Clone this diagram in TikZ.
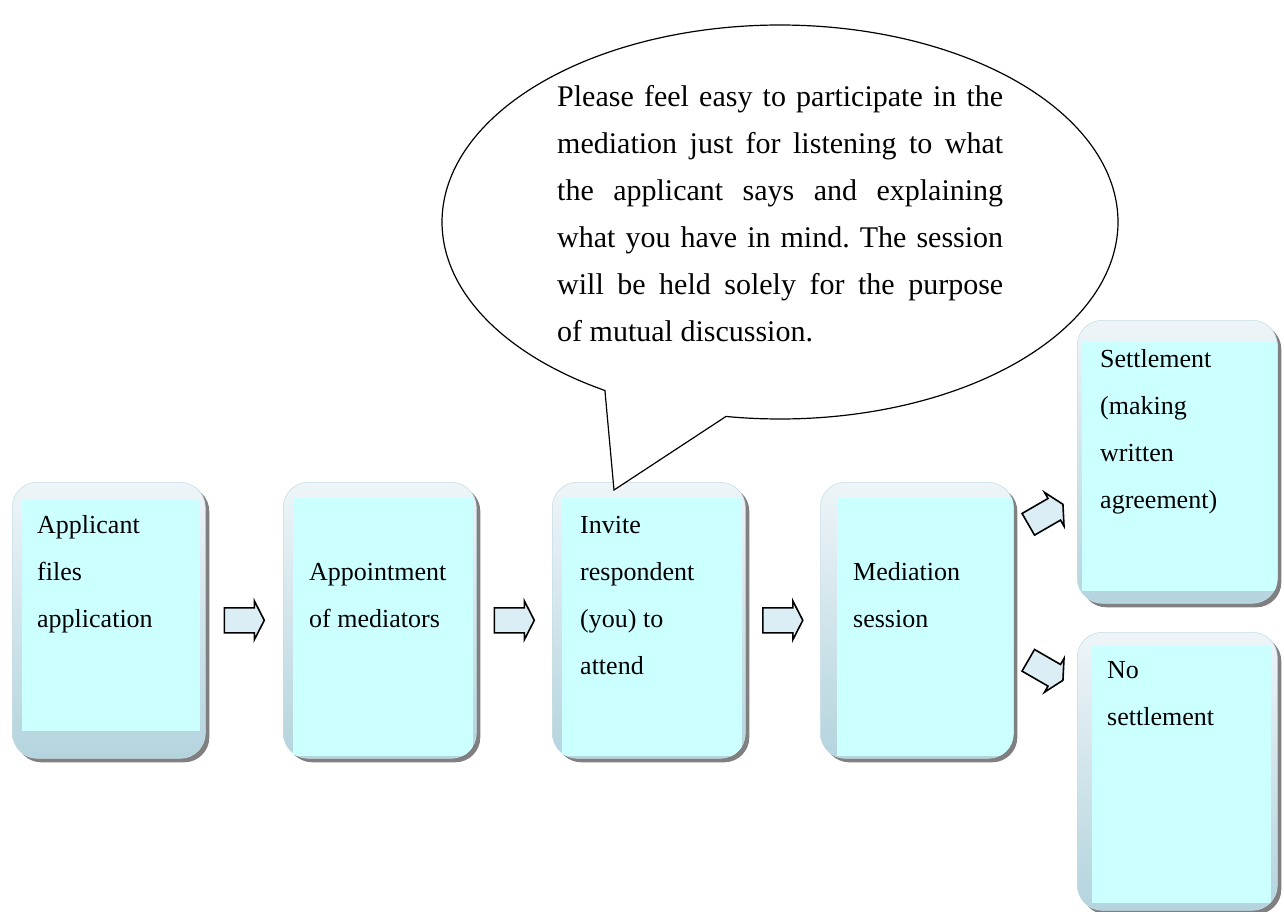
\documentclass[tikz,border=0pt]{standalone}
\usepackage{fontspec}
\setmainfont{Liberation Serif}
\newfontfamily\lsfont{Liberation Serif}
\usetikzlibrary{calc,shadows}
\definecolor{cyanin}{HTML}{CCFFFF}
\definecolor{boxtop}{HTML}{EEF5F8}
\definecolor{boxbot}{HTML}{B4D4DE}
\definecolor{boxedge}{HTML}{C8DEE6}
\definecolor{arrfill}{HTML}{DCEEF5}
\newcommand\innerfill[5]{%
  \begin{scope}
    \clip[rounded corners=25pt] (#1.north west) rectangle (#1.south east);
    \fill[cyanin] ($(#1.north west)+(#2,#3)$) rectangle ($(#1.south east)+(-#4,-#5)$);
  \end{scope}}
\begin{document}
\begin{tikzpicture}[x=1pt,y=-1pt,
  boxnode/.style={rectangle, rounded corners=25pt, top color=boxtop, bottom color=boxbot,
    draw=boxedge, line width=0.6pt, inner sep=0pt,
    drop shadow={shadow xshift=4pt, shadow yshift=-4pt, fill=black!50, opacity=1}},
  btext/.style={inner sep=0pt, anchor=base west, font=\lsfont\fontsize{26pt}{47pt}\selectfont},
  arrowst/.style={draw=black, line width=1.6pt, fill=arrfill, line join=miter},
  blockarr/.pic={\draw[arrowst] (-20,-12.5) -- (10,-12.5) -- (10,-19.5) -- (20,0) -- (10,19.5) -- (10,12.5) -- (-20,12.5) -- cycle;},
  bubble/.style={draw=black, line width=1.2pt, fill=white, line join=miter}
]
\useasboundingbox (0,0) rectangle (1284,912);

% boxes
\node[boxnode, minimum width=193pt, minimum height=276pt, anchor=north west] (b1) at (12,482) {};
\node[boxnode, minimum width=193pt, minimum height=276pt, anchor=north west] (b2) at (283,482) {};
\node[boxnode, minimum width=193pt, minimum height=276pt, anchor=north west] (b3) at (552,482) {};
\node[boxnode, minimum width=193pt, minimum height=276pt, anchor=north west] (b4) at (820,482) {};
\node[boxnode, minimum width=200pt, minimum height=283pt, anchor=north west] (b5) at (1077,320) {};
\node[boxnode, minimum width=200pt, minimum height=278pt, anchor=north west] (b6) at (1077,632) {};

\innerfill{b1}{10}{18}{6}{28}
\innerfill{b2}{10}{16}{4}{3}
\innerfill{b3}{10}{16}{4}{3}
\innerfill{b4}{17}{16}{0}{3}
\innerfill{b5}{5}{22}{0}{13}
\innerfill{b6}{15}{13}{7}{8}

% box texts
\node[btext] (t1) at ($(b1.north west)+(25,51)$) {\parbox[t]{180pt}{Applicant\\files\\application}};
\node[btext] (t2) at ($(b2.north west)+(26,98)$) {\parbox[t]{180pt}{Appointment\\of mediators}};
\node[btext] (t3) at ($(b3.north west)+(28,51)$) {\parbox[t]{180pt}{Invite\\respondent\\(you) to\\attend}};
\node[btext] (t4) at ($(b4.north west)+(33,98)$) {\parbox[t]{180pt}{Mediation\\session}};
\node[btext] (t5) at ($(b5.north west)+(23,47)$) {\parbox[t]{180pt}{Settlement\\(making\\written\\agreement)}};
\node[btext] (t6) at ($(b6.north west)+(30,46)$) {\parbox[t]{180pt}{No\\settlement}};

% block arrows
\coordinate (a1) at ($(b1.east)!0.5!(b2.west)$);
\coordinate (a2) at ($(b2.east)!0.5!(b3.west)$);
\coordinate (a3) at ($(b3.east)!0.5!(b4.west)$);
\coordinate (a4) at ($(b4.east)+(32,-106)$);
\coordinate (a5) at ($(b4.east)+(32,50)$);
\pic at (a1) {blockarr};
\pic at (a2) {blockarr};
\pic at (a3) {blockarr};
\pic[rotate=30] at (a4) {blockarr};
\pic[rotate=-30] at (a5) {blockarr};

% speech bubble
\coordinate (tip) at (614,490);
\draw[bubble] plot[domain=121.2:459.2, samples=300] ({780+338*cos(\x)},{222+197*sin(\x)}) -- (tip) -- cycle;
\node[inner sep=0pt, anchor=base west, font=\lsfont\fontsize{30pt}{47pt}\selectfont] (bt) at (557,107)
  {\parbox[t]{446pt}{\frenchspacing\hyphenpenalty=10000 Please feel easy to participate in the\linebreak mediation just for listening to what\linebreak the applicant says and explaining\linebreak what you have in mind. The session\linebreak will be held solely for the purpose\linebreak of mutual discussion.}};
\end{tikzpicture}
\end{document}
